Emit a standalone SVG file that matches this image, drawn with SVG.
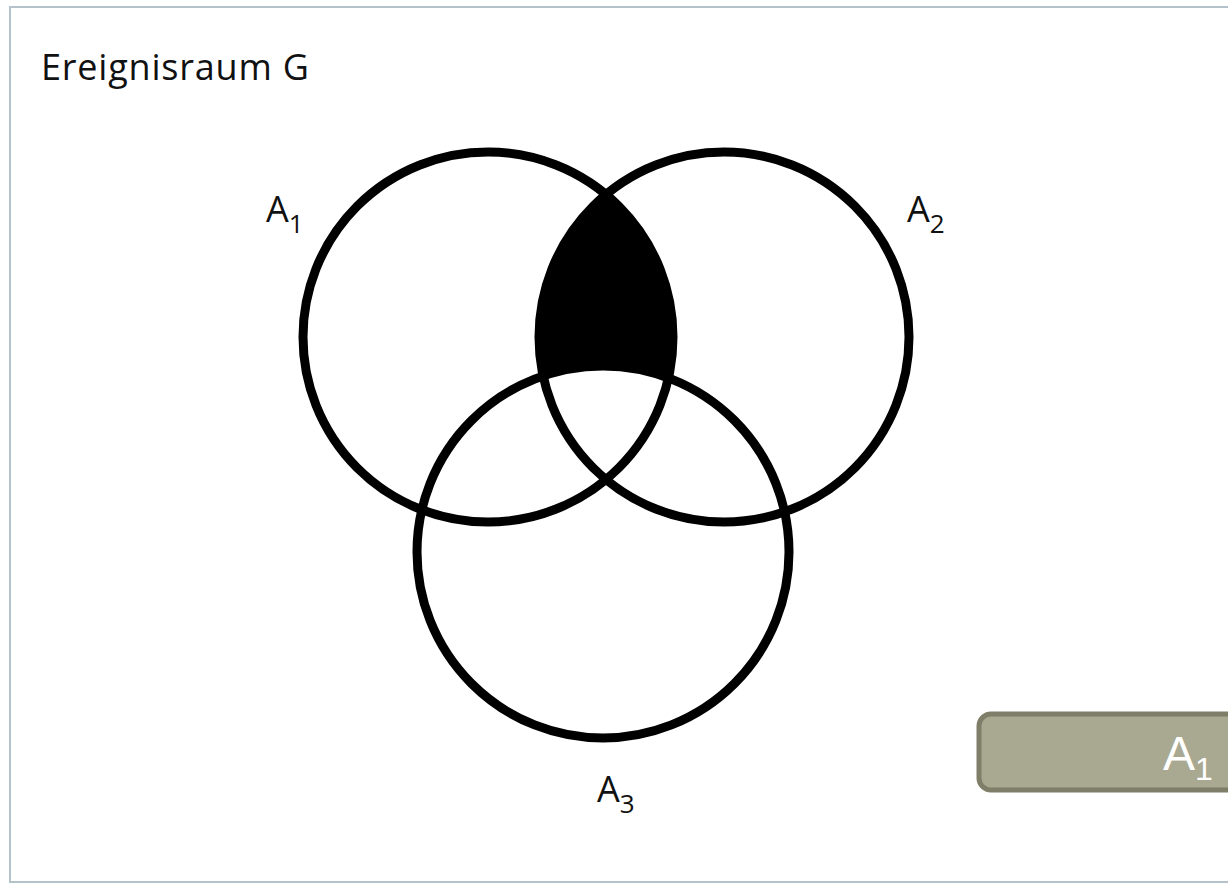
<svg xmlns="http://www.w3.org/2000/svg" width="1228" height="889" viewBox="0 0 1228 889">
<style>
.ring{fill:none;stroke:#000;stroke-width:9}
.lbl{font-family:"Open Sans","Liberation Sans",sans-serif;font-size:36px;fill:#111}
.sub{font-size:26px}
</style>
<defs>
<clipPath id="clipA1"><circle cx="488" cy="337" r="185"/></clipPath>
<mask id="notA3"><rect x="0" y="0" width="1228" height="889" fill="#fff"/><circle cx="603" cy="552" r="186" fill="#000"/></mask>
</defs>
<rect x="0" y="0" width="1228" height="889" fill="#fff"/>
<rect x="10" y="7" width="1230" height="875" fill="#fff" stroke="#b4c2cc" stroke-width="2"/>
<text class="lbl" x="41" y="80" font-size="40" letter-spacing="0.8">Ereignisraum G</text>
<g id="shade"><circle cx="724" cy="337" r="185" fill="#000" clip-path="url(#clipA1)" mask="url(#notA3)"/></g>
<g id="A1"><circle class="ring" cx="488" cy="337" r="185"/><text class="lbl" x="266" y="222">A<tspan class="sub" dy="11">1</tspan></text></g>
<g id="A2"><circle class="ring" cx="724" cy="337" r="185"/><text class="lbl" x="907" y="222">A<tspan class="sub" dy="11">2</tspan></text></g>
<g id="A3"><circle class="ring" cx="603" cy="552" r="186"/><text class="lbl" x="597" y="802">A<tspan class="sub" dy="11">3</tspan></text></g>
<g id="box"><rect x="979" y="714" width="270" height="76" rx="12" fill="#a9a991" stroke="#7e7e69" stroke-width="5"/><text x="1163" y="770" font-family="Liberation Sans, Arial, sans-serif" font-size="48" fill="#fff">A<tspan font-size="32" dy="10">1</tspan></text></g>
</svg>
